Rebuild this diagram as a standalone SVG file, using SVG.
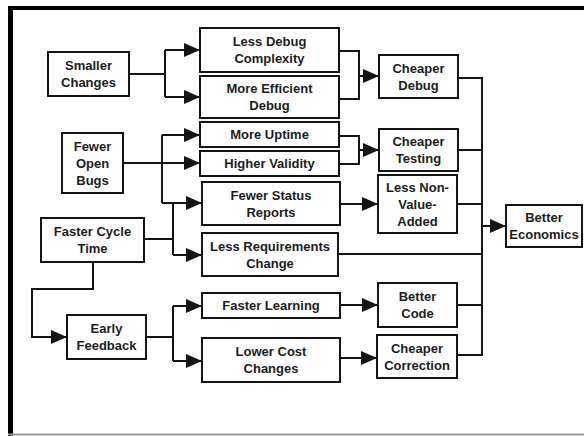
<svg xmlns="http://www.w3.org/2000/svg" width="584" height="436" viewBox="0 0 584 436">
<style>
.box{fill:#fff;stroke:#141414;stroke-width:2}
.t{font-family:"Liberation Sans",Arial,sans-serif;font-weight:bold;font-size:13px;fill:#1c1c1c;text-anchor:middle}
.c{fill:none;stroke:#141414;stroke-width:2}
.a{fill:none;stroke:#141414;stroke-width:2;marker-end:url(#ah)}
</style>
<defs>
<marker id="ah" markerUnits="userSpaceOnUse" markerWidth="16" markerHeight="14" refX="16" refY="7" orient="auto">
<path d="M0,0 L16,7 L0,14 z" fill="#141414"/>
</marker>
</defs>
<rect width="584" height="436" fill="#fff"/>
<g id="frame">
<line x1="10.5" y1="6" x2="10.5" y2="436" stroke="#000" stroke-width="5"/>
<line x1="8" y1="8" x2="584" y2="8" stroke="#000" stroke-width="4"/>
<line x1="8" y1="434.5" x2="584" y2="434.5" stroke="#9a9a9a" stroke-width="2"/>
</g>
<g id="connectors">
<path class="c" d="M129,74 H165 M165,50 V97"/>
<path class="a" d="M165,50 H200"/>
<path class="a" d="M165,97 H200"/>
<path class="a" d="M123,163 H200"/>
<path class="c" d="M162,135 V203"/>
<path class="a" d="M162,135 H200"/>
<path class="a" d="M162,203 H202"/>
<path class="c" d="M144,239 H173 M173,203 V255"/>
<path class="a" d="M173,255 H202"/>
<path class="a" d="M93,262 V289 H32 V337 H67"/>
<path class="c" d="M146,337 H173 M173,306 V361"/>
<path class="a" d="M173,306 H202"/>
<path class="a" d="M173,361 H202"/>
<path class="c" d="M339,51 H359 V99 H339"/>
<path class="a" d="M359,76 H379"/>
<path class="c" d="M339,136 H359 V164 H339"/>
<path class="a" d="M359,150 H379"/>
<path class="a" d="M340,204 H378"/>
<path class="a" d="M340,305 H378"/>
<path class="a" d="M340,358 H377"/>
<path class="c" d="M458,78 H482 V355 H457 M458,150 H482 M457,204 H482 M338,254 H482 M457,305 H482"/>
<path class="a" d="M482,226 H506"/>
</g>
<g id="smaller-changes"><rect class="box" x="48" y="52" width="81" height="44"/><text class="t" x="88.5" y="70">Smaller</text><text class="t" x="88.5" y="87">Changes</text></g>
<g id="less-debug-complexity"><rect class="box" x="200" y="28" width="139" height="44"/><text class="t" x="269.5" y="46">Less Debug</text><text class="t" x="269.5" y="63">Complexity</text></g>
<g id="more-efficient-debug"><rect class="box" x="200" y="76" width="139" height="42"/><text class="t" x="269.5" y="93">More Efficient</text><text class="t" x="269.5" y="110">Debug</text></g>
<g id="more-uptime"><rect class="box" x="200" y="122" width="139" height="25"/><text class="t" x="269.5" y="139">More Uptime</text></g>
<g id="higher-validity"><rect class="box" x="200" y="151" width="139" height="25"/><text class="t" x="269.5" y="168">Higher Validity</text></g>
<g id="fewer-status-reports"><rect class="box" x="202" y="182" width="138" height="43"/><text class="t" x="271" y="199.5">Fewer Status</text><text class="t" x="271" y="216.5">Reports</text></g>
<g id="less-requirements-change"><rect class="box" x="202" y="233" width="136" height="43"/><text class="t" x="270" y="250.5">Less Requirements</text><text class="t" x="270" y="267.5">Change</text></g>
<g id="faster-learning"><rect class="box" x="202" y="293" width="138" height="25"/><text class="t" x="271" y="310">Faster Learning</text></g>
<g id="lower-cost-changes"><rect class="box" x="202" y="338" width="138" height="44"/><text class="t" x="271" y="356">Lower Cost</text><text class="t" x="271" y="373">Changes</text></g>
<g id="fewer-open-bugs"><rect class="box" x="62" y="133" width="61" height="60"/><text class="t" x="92.5" y="151">Fewer</text><text class="t" x="92.5" y="168">Open</text><text class="t" x="92.5" y="185">Bugs</text></g>
<g id="faster-cycle-time"><rect class="box" x="41" y="218" width="103" height="44"/><text class="t" x="92.5" y="236">Faster Cycle</text><text class="t" x="92.5" y="253">Time</text></g>
<g id="early-feedback"><rect class="box" x="67" y="315" width="79" height="44"/><text class="t" x="106.5" y="333">Early</text><text class="t" x="106.5" y="350">Feedback</text></g>
<g id="cheaper-debug"><rect class="box" x="379" y="55" width="79" height="43"/><text class="t" x="418.5" y="72.5">Cheaper</text><text class="t" x="418.5" y="89.5">Debug</text></g>
<g id="cheaper-testing"><rect class="box" x="379" y="129" width="79" height="42"/><text class="t" x="418.5" y="146">Cheaper</text><text class="t" x="418.5" y="163">Testing</text></g>
<g id="less-non-value-added"><rect class="box" x="378" y="175" width="79" height="58"/><text class="t" x="417.5" y="192">Less Non-</text><text class="t" x="417.5" y="209">Value-</text><text class="t" x="417.5" y="226">Added</text></g>
<g id="better-code"><rect class="box" x="378" y="283" width="79" height="44"/><text class="t" x="417.5" y="301">Better</text><text class="t" x="417.5" y="318">Code</text></g>
<g id="cheaper-correction"><rect class="box" x="377" y="335" width="80" height="43"/><text class="t" x="417" y="352.5">Cheaper</text><text class="t" x="417" y="369.5">Correction</text></g>
<g id="better-economics"><rect class="box" x="506" y="205" width="76" height="42"/><text class="t" x="544" y="222">Better</text><text class="t" x="544" y="239">Economics</text></g>
</svg>
